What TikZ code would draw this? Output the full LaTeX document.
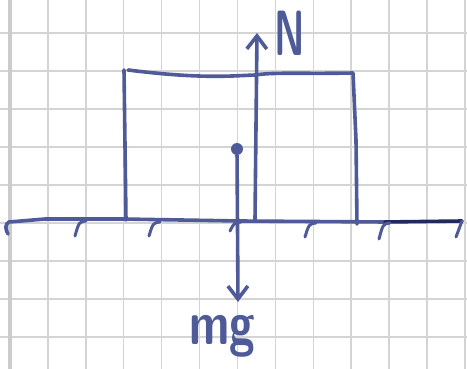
\documentclass[tikz,border=0pt]{standalone}
\usepackage{fontspec}
\usepackage{tikz}
\usetikzlibrary{positioning, arrows.meta}
\definecolor{pen}{RGB}{78,91,152}
\definecolor{pendark}{RGB}{32,42,92}
\definecolor{paperline}{RGB}{212,212,212}

\begin{document}
\begin{tikzpicture}[x=1pt, y=-1pt,
    ink/.style={draw=pen, line width=3.6pt, line cap=round, line join=round},
    force/.style={ink, -{Straight Barb[length=13pt, width=20pt]}},
    hatch/.style={ink, line width=3pt},
    gridline/.style={draw=paperline, line width=1.4pt},
    lbl/.style={text=pen, inner sep=0pt, font=\sffamily\bfseries}]
    \useasboundingbox[fill=white] (0,0) rectangle (467,369);
    \foreach \k in {0,...,12}
        \draw[gridline] ({10+37.9*\k},0) -- ++(0,369);
    \foreach \k in {0,...,8}
        \draw[gridline] (0,{33+38*\k}) -- ++(467,0);
    \draw[draw=black!20, line width=4pt] (10,0) -- (10,369);

    \coordinate (gl) at (9,222);
    \coordinate (gm) at (385,222);
    \coordinate (gr) at (462,221);
    \coordinate (bl) at (126,220);
    \coordinate (tl) at (124,70);
    \coordinate (tr) at (353,73);
    \coordinate (br) at (357,224);

    \draw[ink] (8,234) .. controls (5,229) and (5,224) .. (gl) -- (45,219) -- (122,219) -- (240,221) -- (gm);
    \draw[ink, draw=pendark] (gm) -- (gr);
    \draw[hatch] (gr) -- (456,237);
    \foreach \x/\y/\l in {86/221/15, 160/222/14, 241/222/9, 316/223/14, 390/223/16}
        \draw[hatch] (\x,\y) .. controls ({\x-7},{\y+1}) .. ({\x-11},{\y+\l});

    \draw[ink] (bl) -- (tl);
    \draw[ink] (128,70) .. controls (200,79) and (230,76) .. (255,75) .. controls (275,72) and (300,74) .. (tr) -- (356,140) -- (br);

    \coordinate (nbase) at (255,220);
    \coordinate (ntip) at (257,33);
    \draw[force] (nbase) -- (ntip);
    \node[lbl, right=17pt of ntip] (Nlab) {\scalebox{0.6}[1]{\fontsize{64}{64}\selectfont N}};

    \node[circle, fill=pen, inner sep=0pt, minimum size=12pt] (cm) at (237,149) {};
    \coordinate (mgtip) at (238,302);
    \draw[force] (cm) -- (mgtip);
    \node[lbl, below=13pt of mgtip, xshift=-16pt] (mglab) {\scalebox{0.75}[1]{\fontsize{62}{62}\selectfont mg}};
\end{tikzpicture}
\end{document}
